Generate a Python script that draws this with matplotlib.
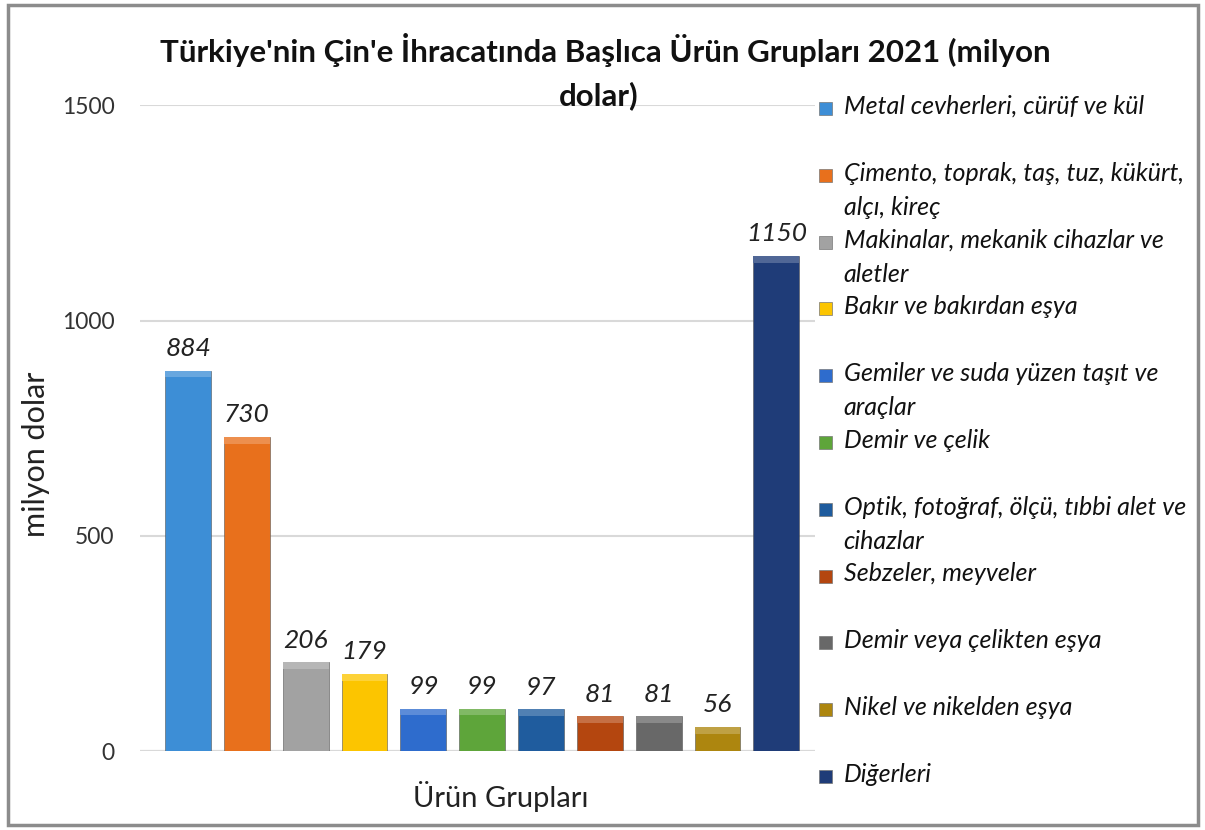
import matplotlib
matplotlib.use("Agg")
import matplotlib.pyplot as plt
from matplotlib.patches import Rectangle
from matplotlib.colors import to_rgb
import numpy as np

plt.rcParams['font.family'] = ['Lato', 'DejaVu Sans']

# data
categories = [
    "Metal cevherleri, cürüf ve kül",
    "Çimento, toprak, taş, tuz, kükürt,\nalçı, kireç",
    "Makinalar, mekanik cihazlar ve\naletler",
    "Bakır ve bakırdan eşya",
    "Gemiler ve suda yüzen taşıt ve\naraçlar",
    "Demir ve çelik",
    "Optik, fotoğraf, ölçü, tıbbi alet ve\ncihazlar",
    "Sebzeler, meyveler",
    "Demir veya çelikten eşya",
    "Nikel ve nikelden eşya",
    "Diğerleri",
]
values = [884, 730, 206, 179, 99, 99, 97, 81, 81, 56, 1150]
colors = ['#3d8ed6', '#e8701c', '#a2a2a2', '#fcc500', '#2e6ccd',
          '#5ea53a', '#1f5c9e', '#b4460f', '#686868', '#ad860f', '#1f3c78']
yticks = [0, 500, 1000, 1500]


def lighten(c, f=0.3):
    r, g, b = to_rgb(c)
    return (r + (1 - r) * f, g + (1 - g) * f, b + (1 - b) * f)


fig = plt.figure(figsize=(12.05, 8.3), dpi=100)
fig.patches.append(Rectangle((0.007, 0.006), 0.987, 0.988, transform=fig.transFigure,
                             fill=False, edgecolor='#8c8c8c', linewidth=2.5))

ax = fig.add_axes([0.116, 0.095, 0.56, 0.778])
x = np.arange(len(values))
vals = np.array(values)
ax.bar(x, vals, width=0.78, color=colors, edgecolor='#555555', linewidth=0.4, zorder=3)
# thin lighter bevel along the top of every bar
cap = 16
ax.bar(x, cap, bottom=vals - cap, width=0.78, color=[lighten(c, 0.22) for c in colors],
       linewidth=0, zorder=4)

for xi, v in zip(x, values):
    ax.text(xi, v + 25, str(v), ha='center', va='bottom', fontsize=19, style='italic', color='#222222')

ax.set_ylim(0, 1500)
ax.set_xlim(-0.82, 10.65)
ax.set_yticks(yticks)
ax.set_yticklabels([str(t) for t in yticks], fontsize=16.5, color='#333333')
ax.tick_params(axis='y', length=0, pad=18)
ax.set_xticks([])
ax.grid(axis='y', color='#d9d9d9', linewidth=1.5, zorder=0)
for s in ax.spines.values():
    s.set_visible(False)
ax.axhline(0, color='#d0d0d0', linewidth=1.5, zorder=1)

ax.set_ylabel('milyon dolar', fontsize=22, color='#222222')
ax.yaxis.set_label_coords(-0.133, 0.459)
ax.set_xlabel('Ürün Grupları', fontsize=21, color='#222222')
ax.xaxis.set_label_coords(0.535, -0.046)

fig.text(0.502, 0.94, "Türkiye'nin Çin'e İhracatında Başlıca Ürün Grupları 2021 (milyon",
         ha='center', va='center', fontsize=22.5, fontweight='bold', color='#111111')
fig.text(0.497, 0.885, "dolar)", ha='center', va='center', fontsize=22.5,
         fontweight='bold', color='#111111')

# legend drawn manually to follow the reference spacing
top = 1 - 108 / 830
step = 66.8 / 830
for i, (lab, c) in enumerate(zip(categories, colors)):
    yy = top - i * step
    fig.patches.append(Rectangle((0.6795, yy - 0.0085), 0.0108, 0.0157, transform=fig.transFigure,
                                 facecolor=c, edgecolor='#777777', linewidth=0.5))
    fig.text(0.700, yy + 0.016, lab, ha='left', va='top', fontsize=18, style='italic',
             color='#111111', linespacing=1.6)

fig.savefig('out.png', dpi=100)
